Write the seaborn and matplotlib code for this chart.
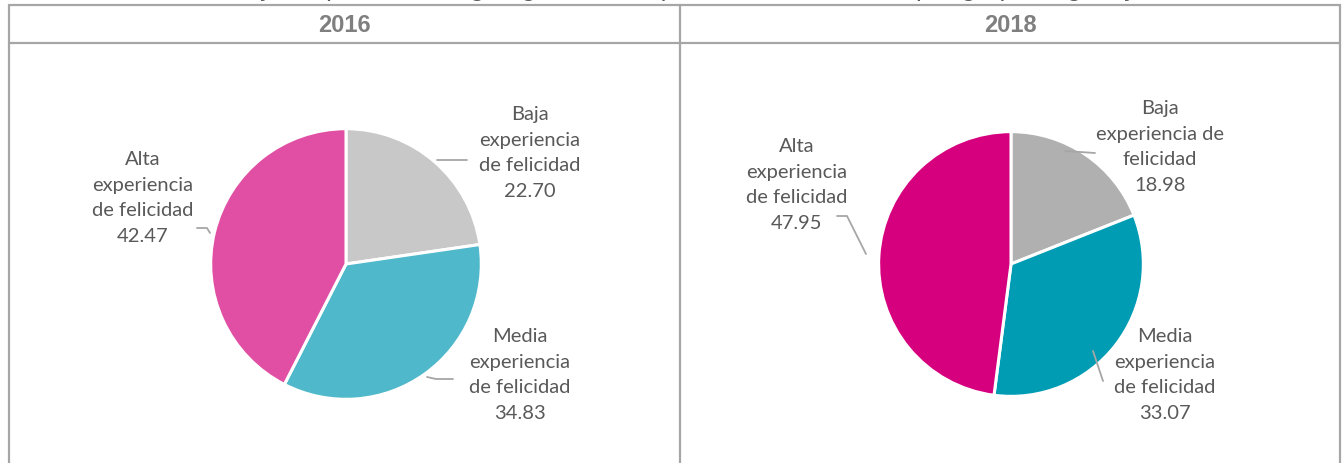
import matplotlib.pyplot as plt
import seaborn as sns

# data
years = ['2016', '2018']
categories = ['Baja experiencia de felicidad', 'Media experiencia de felicidad', 'Alta experiencia de felicidad']
values_2016 = [22.70, 34.83, 42.47]
values_2018 = [18.98, 33.07, 47.95]
colors_2016 = ['#C8C8C8', '#4FB8CA', '#E04FA3']
colors_2018 = ['#B0B0B0', '#009CB4', '#D6007F']

# label text per slice (line breaks as in the original)
label_text_2016 = ['Baja\nexperiencia\nde felicidad', 'Media\nexperiencia\nde felicidad', 'Alta\nexperiencia\nde felicidad']
label_text_2018 = ['Baja\nexperiencia de\nfelicidad', 'Media\nexperiencia\nde felicidad', 'Alta\nexperiencia\nde felicidad']

W, H = 1343, 464
GRID = '#A6A6A6'
TXT = '#595959'

sns.set_theme(style='white')
plt.rcParams['font.family'] = ['Lato', 'DejaVu Sans']


def pie_axes(fig, cx, cy, r):
    return fig.add_axes([(cx - r) / W, (H - cy - r) / H, 2 * r / W, 2 * r / H])


def draw_pie(ax, values, colors):
    ax.pie(values, colors=colors, startangle=90, counterclock=False, radius=1,
           wedgeprops={'edgecolor': 'white', 'linewidth': 2.2})
    ax.set_xlim(-1.02, 1.02)
    ax.set_ylim(-1.02, 1.02)
    ax.set_aspect('equal')
    ax.axis('off')


fig = plt.figure(figsize=(W / 100, H / 100), dpi=100)

ax1 = pie_axes(fig, 346, 265, 138)
draw_pie(ax1, values_2016, colors_2016)
ax2 = pie_axes(fig, 1011, 265, 135)
draw_pie(ax2, values_2018, colors_2018)

# overlay in pixel coordinates for table grid, headers and labels
ov = fig.add_axes([0, 0, 1, 1], zorder=5)
ov.set_xlim(0, W)
ov.set_ylim(H, 0)
ov.axis('off')
ov.patch.set_alpha(0)

for x in [9, 680, 1340]:
    ov.plot([x, x], [6, H], color=GRID, lw=1.6)
for y in [6, 44]:
    ov.plot([9, 1340], [y, y], color=GRID, lw=1.6)

# title above the table, cropped by the image edge in the original
ov.text(672, -4, 'Porcentaje de personas según grado de experiencia de felicidad por grupo, región y año',
        ha='center', va='baseline', fontsize=19, color=TXT, family=['Liberation Sans'], clip_on=False)

for x, yr in zip([344, 1010], years):
    ov.text(x, 25, yr, ha='center', va='center', fontsize=17, fontweight='bold',
            color='#7F7F7F', family=['Liberation Sans'])

label_pos = {
    '2016': [(530, 153), (520, 375), (143, 198)],
    '2018': [(1160, 147), (1165, 375), (797, 185)],
}
leaders = {
    '2016': [[(437, 161), (467, 161)], [(427, 378), (436, 380), (453, 380)], [(197, 229), (207, 229), (210, 234)]],
    '2018': [[(1065, 152), (1095, 154)], [(1093, 352), (1103, 382)], [(837, 217), (847, 217), (866, 255)]],
}

for yr, texts, vals in [('2016', label_text_2016, values_2016), ('2018', label_text_2018, values_2018)]:
    for (x, y), t, v in zip(label_pos[yr], texts, vals):
        ov.text(x, y, f'{t}\n{v:.2f}', ha='center', va='center', fontsize=14.5,
                color=TXT, linespacing=1.62)
    for pts in leaders[yr]:
        ov.plot([p[0] for p in pts], [p[1] for p in pts], color=GRID, lw=1.3)

fig.savefig('out.png', dpi=100, facecolor='white')
